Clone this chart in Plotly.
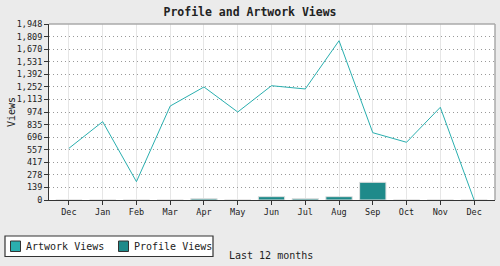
import plotly.graph_objects as go

months = ["Dec", "Jan", "Feb", "Mar", "Apr", "May", "Jun", "Jul", "Aug", "Sep", "Oct", "Nov", "Dec"]
artwork_views = [572, 867, 203, 1040, 1251, 974, 1265, 1229, 1763, 745, 639, 1026, 0]
profile_views = [0, 0, 0, 0, 15, 0, 37, 15, 37, 196, 0, 0, 0]
y_ticks = [0, 139, 278, 417, 557, 696, 835, 974, 1113, 1252, 1392, 1531, 1670, 1809, 1948]
y_tick_labels = ["{:,}".format(v) for v in y_ticks]
series_names = ["Artwork Views", "Profile Views"]

FONT = "DejaVu Sans Mono"
LINE_C = "#2aafaf"
BAR_C = "#1e8a8a"
W, H = 500, 266

idx = list(range(len(months)))

fig = go.Figure()
fig.add_trace(go.Scatter(x=idx, y=artwork_views, mode="lines", name=series_names[0],
                         line=dict(color=LINE_C, width=1)))
fig.add_trace(go.Bar(x=idx, y=profile_views, name=series_names[1], width=0.78,
                     marker=dict(color=BAR_C, line=dict(color="#e0e0e0", width=1))))

fig.update_layout(
    width=W, height=H,
    margin=dict(l=49, r=5, t=24, b=66),
    paper_bgcolor="#ebebeb", plot_bgcolor="white",
    font=dict(family=FONT, size=9, color="#222"),
    showlegend=False,
    title=dict(text="<b>Profile and Artwork Views</b>", x=0.5, xanchor="center",
               y=1 - 12 / H, yanchor="middle", font=dict(family=FONT, size=11.5, color="#222")),
    barmode="overlay",
)
fig.update_xaxes(range=[-0.59, 12.62], tickmode="array", tickvals=idx, ticktext=months,
                 showgrid=True, gridcolor="#e6e6e6", gridwidth=1,
                 showline=True, linecolor="#333", linewidth=1,
                 ticks="outside", ticklen=4, tickcolor="#333",
                 tickfont=dict(family=FONT, size=8.5, color="#222"), zeroline=False)
fig.update_yaxes(range=[0, 1948], tickmode="array", tickvals=y_ticks, ticktext=y_tick_labels,
                 showgrid=True, gridcolor="#999", griddash="1px,3px", gridwidth=1,
                 showline=True, linecolor="#333", linewidth=1,
                 ticks="outside", ticklen=4, tickcolor="#333",
                 tickfont=dict(family=FONT, size=8.5, color="#222"), zeroline=False)

# top and right frame
fig.add_shape(type="line", xref="paper", yref="paper", x0=0, x1=1, y0=1, y1=1,
              line=dict(color="#aaa", width=1.5))
fig.add_shape(type="line", xref="paper", yref="paper", x0=1, x1=1, y0=0, y1=1,
              line=dict(color="#aaa", width=1.5))

# legend box (placed in pixel positions converted to paper coords)
fig.add_shape(type="rect", xref="paper", yref="paper",
              x0=(5 - 49) / 446, x1=(213 - 49) / 446,
              y0=1 - (236 - 24) / 176, y1=1 - (256.5 - 24) / 176,
              fillcolor="white", line=dict(color="#333", width=1.2))
legend_items = [(series_names[0], LINE_C, 10.5, 24), (series_names[1], BAR_C, 118.5, 132)]
for name, col, sx, tx in legend_items:
    fig.add_shape(type="rect", xref="paper", yref="paper",
                  x0=(sx - 49) / 446, x1=(sx + 10 - 49) / 446,
                  y0=1 - (241 - 24) / 176, y1=1 - (251.5 - 24) / 176,
                  fillcolor=col, line=dict(color="#333", width=1))
    fig.add_annotation(text=name, xref="paper", yref="paper", x=(tx - 49) / 446,
                       y=1 - (246.3 - 24) / 176, showarrow=False, xanchor="left", yanchor="middle",
                       font=dict(family=FONT, size=10, color="#222"))

fig.add_annotation(text="Views", xref="paper", yref="paper", x=(11 - 49) / 446, y=0.5,
                   textangle=-90, showarrow=False, xanchor="center", yanchor="middle",
                   font=dict(family=FONT, size=10, color="#222"))
fig.add_annotation(text="Last 12 months", xref="paper", yref="paper", x=(271 - 49) / 446,
                   y=1 - (255 - 24) / 176, showarrow=False, xanchor="center", yanchor="middle",
                   font=dict(family=FONT, size=10, color="#222"))

fig.write_html("out.html")
